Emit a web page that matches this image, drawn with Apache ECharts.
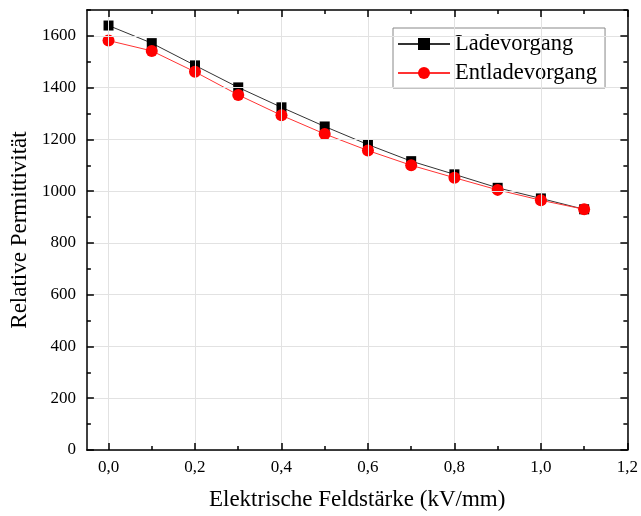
<!DOCTYPE html>
<html>
<head>
<meta charset="utf-8">
<script src="https://cdn.jsdelivr.net/npm/echarts@6/dist/echarts.min.js"></script>
<style>
html,body{margin:0;padding:0;background:#fff;}
#chart{width:641px;height:516px;}
</style>
</head>
<body>
<div id="chart"></div>
<script>
// Data
const fieldStrength = [0.0, 0.1, 0.2, 0.3, 0.4, 0.5, 0.6, 0.7, 0.8, 0.9, 1.0, 1.1];
const ladevorgang = [1640, 1572, 1486, 1401, 1324, 1250, 1180, 1116, 1065, 1013, 972, 930];
const entladevorgang = [1582, 1542, 1461, 1372, 1293, 1221, 1157, 1100, 1052, 1005, 965, 930];
const xMajorTicks = [0.0, 0.2, 0.4, 0.6, 0.8, 1.0, 1.2];
const xMinorTicks = [0.1, 0.3, 0.5, 0.7, 0.9, 1.1];
const yMajorTicks = [0, 200, 400, 600, 800, 1000, 1200, 1400, 1600];
const yMinorTicks = [100, 300, 500, 700, 900, 1100, 1300, 1500, 1700];
const seriesNames = ['Ladevorgang', 'Entladevorgang'];
const xTitle = 'Elektrische Feldstärke (kV/mm)';
const yTitle = 'Relative Permittivität';

const FONT = 'Liberation Serif';
const X_MIN = -0.05, X_MAX = 1.2, Y_MIN = 0, Y_MAX = 1700;
const axisLineStyle = {color: '#000', width: 1.5};

function pairs(xs, ys) { return xs.map((x, i) => [x, ys[i]]); }

function makeAxis(kind, position, major, withLabels) {
  const isX = kind === 'x';
  const ax = {
    type: 'value',
    position: position,
    min: isX ? X_MIN : Y_MIN,
    max: isX ? X_MAX : Y_MAX,
    axisLine: {show: major, onZero: false, lineStyle: axisLineStyle},
    axisTick: {
      show: true, inside: true, length: major ? 7 : 4,
      lineStyle: {color: '#000', width: 1.5},
      customValues: isX ? (major ? xMajorTicks : xMinorTicks) : (major ? yMajorTicks : yMinorTicks)
    },
    axisLabel: {show: false},
    splitLine: {show: false},
    minorTick: {show: false},
    z: 10
  };
  if (withLabels) {
    ax.axisLabel = {
      show: true,
      customValues: isX ? xMajorTicks : yMajorTicks,
      fontFamily: FONT, fontSize: 17, color: '#000',
      margin: isX ? 9 : 11,
      formatter: isX ? (v => v.toFixed(1).replace('.', ',')) : (v => String(Math.round(v)))
    };
    ax.splitLine = {show: true, lineStyle: {color: '#e2e2e2', width: 1}};
    ax.name = isX ? xTitle : yTitle;
    ax.nameLocation = 'middle';
    ax.nameGap = isX ? 38 : 51;
    ax.nameTextStyle = {fontFamily: FONT, fontSize: 23, color: '#000'};
  }
  return ax;
}

const chart = echarts.init(document.getElementById('chart'), null, {renderer: 'canvas'});
chart.setOption({
  animation: false,
  backgroundColor: '#fff',
  textStyle: {fontFamily: FONT},
  grid: {left: 84, right: 13, top: 10, bottom: 66, containLabel: false},
  xAxis: [
    makeAxis('x', 'bottom', true, true),
    makeAxis('x', 'bottom', false, false),
    makeAxis('x', 'top', true, false),
    makeAxis('x', 'top', false, false)
  ],
  yAxis: [
    makeAxis('y', 'left', true, true),
    makeAxis('y', 'left', false, false),
    makeAxis('y', 'right', true, false),
    makeAxis('y', 'right', false, false)
  ],
  legend: {
    orient: 'vertical',
    left: 393, top: 28,
    padding: [3, 8, 2, 4],
    itemGap: 3,
    itemWidth: 52, itemHeight: 15,
    borderColor: '#888', borderWidth: 1,
    backgroundColor: '#fff',
    textStyle: {fontFamily: FONT, fontSize: 22.5, color: '#000', lineHeight: 26},
    data: seriesNames
  },
  series: [
    {
      name: seriesNames[0], type: 'line',
      xAxisIndex: 0, yAxisIndex: 0,
      data: pairs(fieldStrength, ladevorgang),
      symbol: 'rect', symbolSize: 10,
      itemStyle: {color: '#000'},
      lineStyle: {color: '#333', width: 1},
      z: 3
    },
    {
      name: seriesNames[1], type: 'line',
      xAxisIndex: 0, yAxisIndex: 0,
      data: pairs(fieldStrength, entladevorgang),
      symbol: 'circle', symbolSize: 12,
      itemStyle: {color: '#ff0000'},
      lineStyle: {color: '#ff3333', width: 1},
      z: 4
    }
  ]
});
</script>
</body>
</html>
